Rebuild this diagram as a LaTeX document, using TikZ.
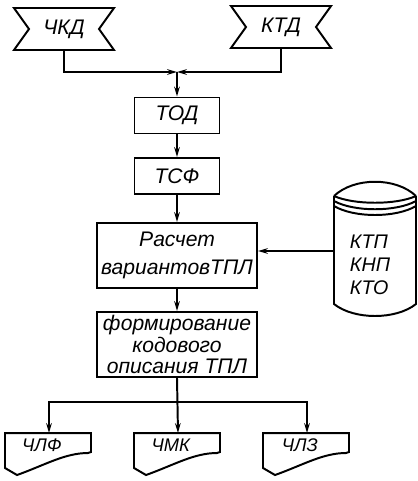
\documentclass[tikz,border=0pt]{standalone}
\usepackage{fontspec}
\setmainfont{Liberation Sans}
\usetikzlibrary{arrows.meta,calc}
\newcommand{\bannerline}[1]{\draw (#1.north west) -- (#1.north east) -- ($(#1.east)+(-15,0)$)
  -- (#1.south east) -- (#1.south west) -- ($(#1.west)+(15,0)$) -- cycle;}
\newcommand{\docline}[1]{\begin{scope}[shift={(#1.north west)}]
  \draw (0,0) -- (86,0) -- (86,19) -- (83,20) .. controls (60,20) and (40,32) .. (12,42) -- (0,35) -- cycle;\end{scope}}
\newcommand{\drumline}[1]{\begin{scope}[shift={(#1.north west)}]
  \draw (0,0) .. controls (20,-19) and (62,-19) .. (82,0);
  \draw (0,0) .. controls (20,9) and (62,9) .. (82,0);
  \draw (0,5) .. controls (20,16) and (62,16) .. (82,5);
  \draw (0,10) .. controls (20,22) and (62,22) .. (82,10);
  \draw (0,0) -- (0,108) .. controls (20,124) and (62,124) .. (82,108) -- (82,0);\end{scope}}

\begin{document}
\begin{tikzpicture}[x=0.025cm,y=-0.025cm,line width=1.4pt,
  font=\fontsize{15}{17}\selectfont\itshape,
  arr/.style={-{Stealth[length=7pt,width=4pt]}},
  banner/.style={minimum width=2.45cm,minimum height=1cm,inner sep=0pt},
  sbox/.style={draw,minimum width=2.125cm,minimum height=0.9cm,inner sep=0pt},
  bbox/.style={draw,minimum width=4cm,minimum height=1.625cm,inner sep=0pt,align=center},
  doc/.style={minimum width=2.15cm,minimum height=1.05cm,inner sep=0pt},
  doctxt/.style={anchor=center,xshift=0.92cm,yshift=-0.3cm,font=\fontsize{13}{15}\selectfont\itshape}]
\useasboundingbox (0,0) rectangle (418,481);
\node[banner] (chkd) at (64,29) {ЧКД}; \bannerline{chkd}
\node[banner] (ktd) at (281,27) {КТД}; \bannerline{ktd}
\coordinate (join) at (177,72);
\node[sbox] (tod) at (177,115.5) {ТОД};
\node[sbox] (tsf) at (177,176) {ТСФ};
\node[bbox,font=\fontsize{15}{20}\selectfont\itshape] (rasch) at (177,255.5) {Расчет\\вариантовТПЛ};
\node[bbox,font=\fontsize{15}{15.5}\selectfont\itshape] (form) at (177,344.5) {формирование\\кодового\\описания ТПЛ};
\node[minimum width=2.05cm,minimum height=2.7cm,inner sep=0pt,
  label={[align=left,xshift=-0.15cm,yshift=-0.35cm,font=\fontsize{14}{16.5}\selectfont\itshape]center:КТП\\КНП\\КТО}] (baza) at (376,251) {};
\drumline{baza}
\coordinate (split) at (177,402);
\node[doc,label={[doctxt]north west:ЧЛФ}] (chlf) at (49,455) {}; \docline{chlf}
\node[doc,label={[doctxt]north west:ЧМК}] (chmk) at (178,455) {}; \docline{chmk}
\node[doc,label={[doctxt]north west:ЧЛЗ}] (chlz) at (307,455) {}; \docline{chlz}
\draw[arr] (chkd.south) |- (join);
\draw[arr] (ktd.south) |- (join);
\draw[arr] (join) -- (tod.north);
\draw[arr] (tod) -- (tsf);
\draw[arr] (tsf) -- (rasch);
\draw[arr] (rasch) -- (form);
\draw[arr] (baza.west) -- (baza.west -| rasch.east);
\draw[arr] (form.south) -- (chmk.north);
\draw[arr] (split) -| (chlf.north);
\draw[arr] (split) -| (chlz.north);
\end{tikzpicture}
\end{document}
